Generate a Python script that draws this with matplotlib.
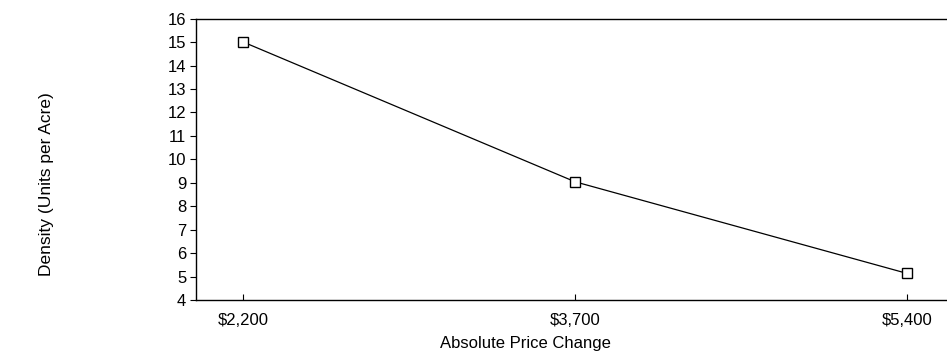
import matplotlib
matplotlib.use("Agg")
from matplotlib import pyplot as plt

# Chart data
priceL   = ["$2,200", "$3,700", "$5,400"]
densityL = [15.0, 9.05, 5.15]
yTickL   = list(range(4, 17))

plt.rcParams['font.family'] = ['Liberation Sans', 'DejaVu Sans']

fig = plt.figure(figsize=(9.47, 3.56), dpi=100)
ax = fig.add_axes([0.207, 0.156, 0.793, 0.792])

xL = list(range(len(priceL)))
ax.plot(xL, densityL, color="black", linewidth=0.9, marker="s",
        markersize=6.5, markerfacecolor="white", markeredgecolor="black",
        markeredgewidth=1.0)

ax.set_xlim(-0.142, 2.12)
ax.set_ylim(4, 16)
ax.set_xticks(xL)
ax.set_xticklabels(priceL, fontsize=12)
ax.set_yticks(yTickL)
ax.set_yticklabels([str(v) for v in yTickL], fontsize=12)

ax.spines["right"].set_visible(False)
for s in ["left", "top", "bottom"]:
    ax.spines[s].set_linewidth(1.0)
ax.tick_params(axis="x", direction="in", length=4, pad=9)
ax.tick_params(axis="y", direction="out", length=4, pad=3)

ax.set_xlabel("Absolute Price Change", fontsize=12)
ax.xaxis.set_label_coords(0.438, -0.125)
ax.set_ylabel("Density (Units per Acre)", fontsize=12.5)
ax.yaxis.set_label_coords((54 - 196) / 751.0, 0.413)

plt.savefig("out.png", dpi=100)
plt.close('all')
